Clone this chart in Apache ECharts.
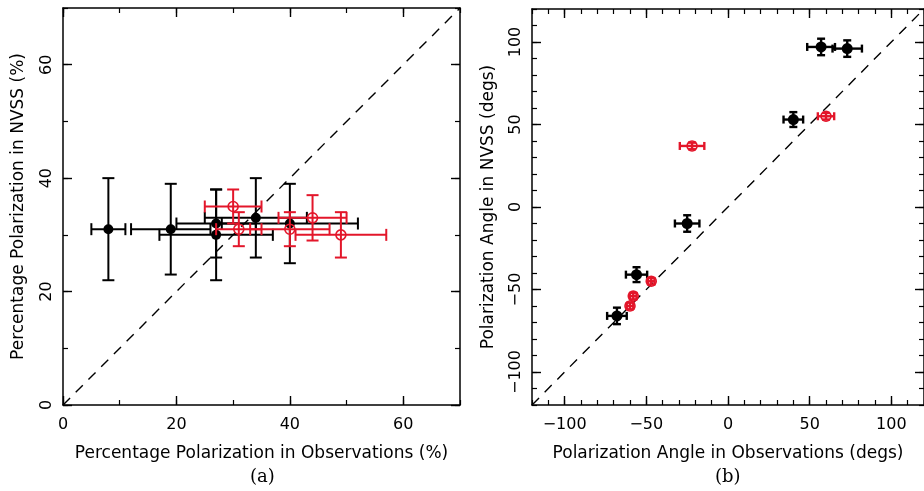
<!DOCTYPE html>
<html>
<head>
<meta charset="utf-8">
<script src="https://cdn.jsdelivr.net/npm/echarts@6/dist/echarts.min.js"></script>
<style>
  html, body { margin: 0; padding: 0; background: #fff; }
  #chart { width: 924px; height: 491px; }
</style>
</head>
<body>
<div id="chart"></div>
<script>
// Panel (a): percentage polarization, observations vs NVSS
const pctObsBlack     = [8, 19, 27, 27, 34, 40];
const pctObsErrBlack  = [3, 7, 7, 10, 9, 12];
const pctNvssBlack    = [31, 31, 32, 30, 33, 32];
const pctNvssErrBlack = [9, 8, 6, 8, 7, 7];

const pctObsRed     = [30, 31, 40, 44, 49];
const pctObsErrRed  = [5, 4, 7, 6, 8];
const pctNvssRed    = [35, 31, 31, 33, 30];
const pctNvssErrRed = [3, 3, 3, 4, 4];

// Panel (b): polarization angle, observations vs NVSS
const angObsBlack     = [57, 73, 40, -25, -56, -68];
const angObsErrBlack  = [8.5, 9, 6, 7.5, 6.5, 6];
const angNvssBlack    = [97, 96, 53, -10, -41, -66];
const angNvssErrBlack = [5, 5, 4.5, 5, 4.5, 5];

const angObsRed     = [60, -22, -47, -58, -60];
const angObsErrRed  = [5, 7.5, 2, 2, 2];
const angNvssRed    = [55, 37, -45, -54, -60];
const angNvssErrRed = [2, 2, 2, 2, 2];

// One-to-one reference lines
const diagA = [0, 70];
const diagB = [-120, 120];

// Axis ranges and tick values
const pctRange = [0, 70];
const pctMajorTicks = [0, 20, 40, 60];
const angRange = [-120, 120];
const angMajorTicks = [-100, -50, 0, 50, 100];

const RED = '#e3162a';
const FONT = 'DejaVu Sans';

const fmt = v => String(v).replace('-', '\u2212');

// Four axes per direction: labelled major ticks + minor ticks, on both sides of the frame
function axesFor(kind, gridIndex, range, majors, minorStep, name, nameGap) {
  const isX = kind === 'x';
  const sides = isX ? ['bottom', 'top'] : ['left', 'right'];
  const out = [];
  sides.forEach((side, si) => {
    // major
    out.push({
      type: 'value', gridIndex, position: side, min: range[0], max: range[1],
      axisLine: { show: true, onZero: false, lineStyle: { color: '#000', width: 1.5 } },
      axisTick: { show: true, inside: true, length: 9, customValues: majors,
                  lineStyle: { color: '#000', width: 1.4 } },
      axisLabel: si === 0 ? {
        show: true, customValues: majors, formatter: fmt, color: '#000',
        fontFamily: FONT, fontSize: 16, margin: isX ? 12 : 8, rotate: isX ? 0 : 90
      } : { show: false },
      splitLine: { show: false },
      name: si === 0 ? name : '',
      nameLocation: 'middle', nameGap: nameGap,
      nameTextStyle: { fontFamily: FONT, fontSize: 17, color: '#000' }
    });
    // minor
    out.push({
      type: 'value', gridIndex, position: side, min: range[0], max: range[1],
      interval: minorStep,
      axisLine: { show: false, onZero: false },
      axisTick: { show: true, inside: true, length: 5, lineStyle: { color: '#000', width: 1.2 } },
      axisLabel: { show: false },
      splitLine: { show: false }
    });
  });
  return out;
}

function errorBars(name, xIdx, yIdx, xs, xErr, ys, yErr, color, filled, cap, radius, lw) {
  const data = xs.map((x, i) => [x, ys[i], xErr[i], yErr[i]]);
  return {
    name, type: 'custom', xAxisIndex: xIdx, yAxisIndex: yIdx, clip: true, z: 5,
    data,
    renderItem: (params, api) => {
      const x = api.value(0), y = api.value(1), dx = api.value(2), dy = api.value(3);
      const c = api.coord([x, y]);
      const l = api.coord([x - dx, y]);
      const r = api.coord([x + dx, y]);
      const t = api.coord([x, y + dy]);
      const b = api.coord([x, y - dy]);
      const ls = { stroke: color, lineWidth: lw };
      const line = (x1, y1, x2, y2) => ({ type: 'line', shape: { x1, y1, x2, y2 }, style: ls });
      const children = [
        line(l[0], l[1], r[0], r[1]),
        line(t[0], t[1], b[0], b[1]),
        line(l[0], l[1] - cap, l[0], l[1] + cap),
        line(r[0], r[1] - cap, r[0], r[1] + cap),
        line(t[0] - cap, t[1], t[0] + cap, t[1]),
        line(b[0] - cap, b[1], b[0] + cap, b[1]),
        {
          type: 'circle', shape: { cx: c[0], cy: c[1], r: radius },
          style: filled ? { fill: color } : { fill: 'none', stroke: color, lineWidth: 1.6 }
        }
      ];
      return { type: 'group', children };
    }
  };
}

function diagonal(xIdx, yIdx, ends) {
  return {
    type: 'line', xAxisIndex: xIdx, yAxisIndex: yIdx, silent: true, symbol: 'none',
    data: ends.map(v => [v, v]), z: 2, clip: true,
    lineStyle: { color: '#000', width: 1.4, type: [10, 8] }
  };
}

const chart = echarts.init(document.getElementById('chart'), null, { renderer: 'canvas' });

const xAxes = [
  ...axesFor('x', 0, pctRange, pctMajorTicks, 10, 'Percentage Polarization in Observations (%)', 40),
  ...axesFor('x', 1, angRange, angMajorTicks, 10, 'Polarization Angle in Observations (degs)', 40)
];
const yAxes = [
  ...axesFor('y', 0, pctRange, pctMajorTicks, 10, 'Percentage Polarization in NVSS (%)', 36),
  ...axesFor('y', 1, angRange, angMajorTicks, 10, 'Polarization Angle in NVSS (degs)', 35)
];

chart.setOption({
  animation: false,
  backgroundColor: '#fff',
  grid: [
    { left: 63, top: 8, width: 397, height: 397 },
    { left: 532, top: 9, width: 400, height: 396 }
  ],
  xAxis: xAxes,
  yAxis: yAxes,
  graphic: [
    { type: 'text', left: 250, top: 468,
      style: { text: '(a)', fontFamily: 'DejaVu Serif', fontSize: 18, fill: '#000' } },
    { type: 'text', left: 715, top: 468,
      style: { text: '(b)', fontFamily: 'DejaVu Serif', fontSize: 18, fill: '#000' } }
  ],
  series: [
    diagonal(0, 0, diagA),
    errorBars('pct-black', 0, 0, pctObsBlack, pctObsErrBlack, pctNvssBlack, pctNvssErrBlack, '#000', true, 6, 5, 2),
    errorBars('pct-red', 0, 0, pctObsRed, pctObsErrRed, pctNvssRed, pctNvssErrRed, RED, false, 6, 5, 2),
    diagonal(4, 4, diagB),
    errorBars('ang-black', 4, 4, angObsBlack, angObsErrBlack, angNvssBlack, angNvssErrBlack, '#000', true, 4, 5.5, 2.4),
    errorBars('ang-red', 4, 4, angObsRed, angObsErrRed, angNvssRed, angNvssErrRed, RED, false, 4, 5, 2.4)
  ]
});
</script>
</body>
</html>
